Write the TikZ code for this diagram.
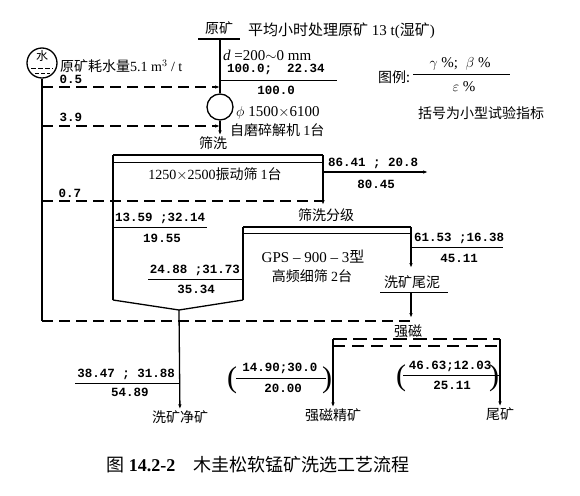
\documentclass[tikz,border=0pt]{standalone}
\usepackage{fontspec}
\setmainfont{Liberation Serif}
\newfontfamily\cjk{Noto Sans CJK SC}
\newfontfamily\numf{Liberation Mono}
\usetikzlibrary{arrows.meta}

\begin{document}
\begin{tikzpicture}[x=1pt, y=-1pt,
  pipe/.style={line width=1.3pt},
  water/.style={line width=1.1pt, dash pattern=on 11pt off 6pt},
  tip/.style={-{Latex[length=5pt,width=3.5pt]}},
  cn/.style={font=\cjk\fontsize{14}{16}\selectfont, inner sep=1pt},
  rm/.style={font=\rmfamily\fontsize{15}{17}\selectfont, inner sep=1pt},
  num/.style={font=\numf\bfseries\fontsize{12.5}{14}\selectfont, inner sep=1pt}]

\useasboundingbox (0,0) rectangle (580,495);

% junction points of the flowsheet
\coordinate (ore)    at (220,39);
\coordinate (scrTL)  at (113,155);
\coordinate (scrTR)  at (323,155);
\coordinate (scrOut) at (323,205);
\coordinate (ovr)    at (323,172);
\coordinate (ovrE)   at (428,172);
\coordinate (gpsTL)  at (243,227);
\coordinate (gpsTR)  at (411,227);
\coordinate (gpsOut) at (411,268);
\coordinate (fnL)    at (113,300);
\coordinate (fnR)    at (243,300);
\coordinate (fnB)    at (179,310);
\coordinate (magL)   at (333,339);
\coordinate (magR)   at (500,339);

% raw ore and mill
\node[cn] (feed) at (219,28) {原矿};
\draw[pipe] (198,39) -- (240,39);
\node[rm, anchor=west] (cap) at (247,31) {{\cjk 平均小时处理原矿} 13 t({\cjk 湿矿})};
\node[rm, anchor=west] (size) at (222,55) {\textit{d} =200$\sim$0 mm};
\node[num, anchor=west] (oreA) at (226,69) {100.0;\ \ 22.34};
\draw[line width=0.8pt] (ore |- 0,80) -- (337,80);
\node[num] (oreB) at (276,90) {100.0};
\node[draw, circle, pipe, minimum size=26pt, inner sep=0pt] (mill) at (220,107) {};
\node[rm, anchor=west] (millA) at (235,113) {$\phi$ 1500$\times$6100};
\node[cn, anchor=west] (millB) at (229,130) {自磨碎解机 {\rmfamily 1}台};
\node[cn] (scrN) at (213,143) {筛洗};
\draw[pipe] (ore) -- (mill);
\draw[pipe, tip] (mill) -- (mill |- scrN.north);

% water supply
\node[draw, circle, pipe, minimum size=30pt, inner sep=0pt] (wat) at (42,63) {};
\node[cn, font=\cjk\fontsize{12}{12}\selectfont] (watT) at (42,56) {水};
\draw[thin, dash pattern=on 5pt off 2pt] (31,68) -- (53,68);
\draw[thin, dash pattern=on 4pt off 2pt] (35,73) -- (50,73);
\node[cn, anchor=west] (watA) at (59,66) {原矿耗水量{\rmfamily 5.1 m$^3$ / t}};
\coordinate (w1) at (42,87);
\coordinate (w2) at (42,126);
\coordinate (w3) at (42,201);
\coordinate (w4) at (42,321);
\draw[pipe] (wat) -- (w4);
\draw[water, tip] (w1) -- (w1 -| ore);
\draw[water, tip] (w2) -- (w2 -| ore);
\draw[water] (w3) -- (w3 -| scrOut);
\draw[water] (w4) -- (w4 -| gpsOut);
\node[num] (q1) at (71,79) {0.5};
\node[num] (q2) at (71,117) {3.9};
\node[num] (q3) at (70,193) {0.7};

% vibrating screen
\draw[line width=2.6pt] (scrTL) -- (scrTR);
\draw[line width=0.8pt] (113,162) -- (323,162);
\node[cn] (scrT) at (215,174) {{\rmfamily 1250$\times$2500}振动筛 {\rmfamily 1}台};
\draw[pipe] (fnL) -- (scrTL);
\draw[pipe, tip] (scrTR) -- (scrOut);
\draw[pipe, tip] (ovr) -- (ovrE);
\node[num, anchor=west] (ovrA) at (327,163) {86.41 ; 20.8};
\node[num] (ovrB) at (376,184) {80.45};
\draw[line width=0.8pt] (113,227) -- (207,227);
\node[num, anchor=west] (unA) at (114,218) {13.59 ;32.14};
\node[num] (unB) at (162,238) {19.55};

% high frequency screen
\node[cn] (gpsN) at (326,215) {筛洗分级};
\draw[line width=2.6pt] (gpsTL) -- (gpsTR);
\draw[line width=0.8pt] (243,233) -- (411,233);
\node[rm] (gpsA) at (313,257) {GPS -- 900 -- 3{\cjk 型}};
\node[cn] (gpsB) at (312,276) {高频细筛 {\rmfamily 2}台};
\draw[pipe] (gpsTL) -- (fnR);
\draw[pipe, tip] (gpsTR) -- (gpsOut);
\draw[line width=0.8pt] (gpsTR |- 0,247) -- (503,247);
\node[num, anchor=west] (slA) at (413,238) {61.53 ;16.38};
\node[num] (slB) at (459,258) {45.11};
\draw[line width=0.8pt] (148,279) -- (gpsTL |- 0,279);
\node[num, anchor=east] (fnA) at (241,270) {24.88 ;31.73};
\node[num] (fnB2) at (196,289) {35.34};
\node[cn] (slime) at (412,282) {洗矿尾泥};
\draw[line width=0.8pt] (380,292) -- (448,292);
\draw[pipe, tip] (gpsOut |- 0,292) -- (gpsOut |- 0,318);

% screen funnel and washed ore
\draw[pipe] (fnL) -- (fnB) -- (fnR);
\node[cn] (clean) at (180,417) {洗矿净矿};
\draw[pipe, tip] (fnB) -- (clean);
\draw[line width=0.8pt] (75,383) -- (fnB |- 0,383);
\node[num, anchor=east] (clA) at (176,374) {38.47 ; 31.88};
\node[num] (clB) at (130,392) {54.89};

% high intensity magnetic separator
\node[cn] (magN) at (408,331) {强磁};
\draw[line width=2.2pt, dash pattern=on 14pt off 6pt] (magL) -- (magR);
\draw[line width=1.1pt, dash pattern=on 12pt off 7pt] (333,346) -- (500,346);
\node[cn] (conc) at (333,415) {强磁精矿};
\node[cn] (tail) at (500,414) {尾矿};
\draw[pipe, tip] (magL) -- (conc);
\draw[pipe, tip] (magR) -- (tail);
\node[num] (cA) at (280,368) {14.90;30.0};
\draw[line width=0.8pt] (236,378) -- (326,378);
\node[num] (cB) at (283,388) {20.00};
\node[font=\fontsize{30}{30}\selectfont, inner sep=0pt] (cP1) at (232,380) {(};
\node[font=\fontsize{30}{30}\selectfont, inner sep=0pt] (cP2) at (327,380) {)};
\node[num] (tA) at (450,366) {46.63;12.03};
\draw[line width=0.8pt] (403,375) -- (magR |- 0,375);
\node[num] (tB) at (452,385) {25.11};
\node[font=\fontsize{30}{30}\selectfont, inner sep=0pt] (tP1) at (401,378) {(};
\node[font=\fontsize{30}{30}\selectfont, inner sep=0pt] (tP2) at (494,378) {)};

% legend
\node[cn] (leg) at (394,77) {图例:};
\node[rm] (legA) at (460,64) {$\gamma$ \%;\ \ $\beta$ \%};
\draw[line width=0.8pt] (413,74) -- (510,74);
\node[rm] (legB) at (464,87) {$\varepsilon$ \%};
\node[cn] (note) at (481,113) {括号为小型试验指标};

% caption
\node[cn, font=\cjk\fontsize{18}{20}\selectfont] (title) at (258,465)
  {图 {\rmfamily\bfseries 14.2-2}\quad 木圭松软锰矿洗选工艺流程};

\end{tikzpicture}
\end{document}
